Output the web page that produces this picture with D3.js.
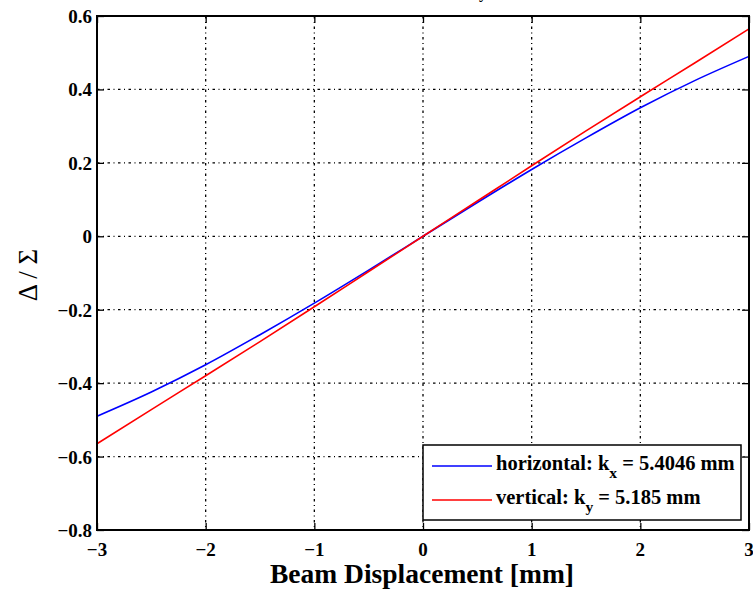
<!DOCTYPE html>
<html><head><meta charset="utf-8">
<script src="https://cdn.jsdelivr.net/npm/d3@7"></script>
<style>body{margin:0;background:#fff}svg{display:block}</style>
</head><body>
<script>
// Data
const xValues = [-3, -2.5, -2, -1.5, -1, -0.5, 0, 0.5, 1, 1.5, 2, 2.5, 3];
const horizontalValues = [-0.490, -0.424, -0.350, -0.268, -0.182, -0.092, 0, 0.092, 0.182, 0.268, 0.350, 0.424, 0.490];
const verticalValues = [-0.565, -0.472, -0.380, -0.287, -0.192, -0.096, 0, 0.096, 0.192, 0.287, 0.380, 0.472, 0.565];
const xTicks = [-3, -2, -1, 0, 1, 2, 3];
const yTicks = [-0.8, -0.6, -0.4, -0.2, 0, 0.2, 0.4, 0.6];
const seriesNames = ["horizontal", "vertical"];
const seriesK = ["x", "y"];
const seriesKValues = ["5.4046", "5.185"];

const W = 753, H = 589;
const L = 97, R = 749, T = 16, B = 530;
const svg = d3.select("body").append("svg").attr("width", W).attr("height", H);
const x = d3.scaleLinear().domain([-3, 3]).range([L, R]);
const y = d3.scaleLinear().domain([-0.8, 0.6]).range([B, T]);
const serif = "'Liberation Serif','Times New Roman',serif";
const fmt = v => (v < 0 ? "\u2212" : "") + (v === 0 ? "0" : (Math.abs(v) % 1 === 0 ? Math.abs(v).toString() : Math.abs(v).toFixed(1)));

// Cut-off title remnant
svg.append("text").attr("x", 479).attr("y", -2).attr("font-family", serif).attr("font-weight", "bold")
  .attr("font-size", 16).text("y");

// Grid
const grid = svg.append("g").attr("stroke", "#000").attr("stroke-width", 1.3).attr("stroke-dasharray", "2.5,3.5,1,3.5");
grid.selectAll(".gx").data(xTicks.slice(1, -1)).enter().append("line")
  .attr("x1", d => x(d)).attr("x2", d => x(d)).attr("y1", T).attr("y2", B);
grid.selectAll(".gy").data(yTicks.slice(1, -1)).enter().append("line")
  .attr("y1", d => y(d)).attr("y2", d => y(d)).attr("x1", L).attr("x2", R);

// Axes (ticks inward)
const ax = svg.append("g");
ax.append("g").attr("transform", `translate(0,${B})`)
  .call(d3.axisTop(x).tickValues(xTicks).tickSize(7).tickFormat(""));
ax.append("g").attr("transform", `translate(0,${T})`)
  .call(d3.axisBottom(x).tickValues(xTicks).tickSize(7).tickFormat(""));
ax.append("g").attr("transform", `translate(${L},0)`)
  .call(d3.axisRight(y).tickValues(yTicks).tickSize(7).tickFormat(""));
ax.append("g").attr("transform", `translate(${R},0)`)
  .call(d3.axisLeft(y).tickValues(yTicks).tickSize(7).tickFormat(""));
ax.selectAll(".domain").remove();
ax.selectAll("line").attr("stroke", "#000").attr("stroke-width", 1.3);

// Lines
const line = d3.line().x(d => x(d[0])).y(d => y(d[1])).curve(d3.curveMonotoneX);
svg.append("path").datum(xValues.map((v, i) => [v, horizontalValues[i]]))
  .attr("d", line).attr("fill", "none").attr("stroke", "#0000ff").attr("stroke-width", 1.6);
svg.append("path").datum(xValues.map((v, i) => [v, verticalValues[i]]))
  .attr("d", line).attr("fill", "none").attr("stroke", "#ff0000").attr("stroke-width", 1.6);

// Box
svg.append("rect").attr("x", L).attr("y", T).attr("width", R - L).attr("height", B - T)
  .attr("fill", "none").attr("stroke", "#000").attr("stroke-width", 2);

// Tick labels
svg.selectAll(".xl").data(xTicks).enter().append("text")
  .attr("x", d => x(d)).attr("y", B + 26).attr("text-anchor", "middle")
  .attr("font-family", serif).attr("font-weight", "bold").attr("font-size", 19).text(d => fmt(d));
svg.selectAll(".yl").data(yTicks).enter().append("text")
  .attr("x", L - 5).attr("y", d => y(d) + 7).attr("text-anchor", "end")
  .attr("font-family", serif).attr("font-weight", "bold").attr("font-size", 19).text(d => fmt(d));

// Axis labels
svg.append("text").attr("x", (L + R) / 2 - 1).attr("y", 583).attr("text-anchor", "middle")
  .attr("font-family", serif).attr("font-weight", "bold").attr("font-size", 27.5).text("Beam Displacement [mm]");
svg.append("text").attr("transform", "translate(37,275) rotate(-90)").attr("text-anchor", "middle")
  .attr("font-family", serif).attr("font-size", 27).text("\u0394 / \u03A3");

// Legend
const lg = svg.append("g");
lg.append("rect").attr("x", 423).attr("y", 445).attr("width", 318).attr("height", 75)
  .attr("fill", "#fff").attr("stroke", "#000").attr("stroke-width", 1.5);
const colors = ["#0000ff", "#ff0000"];
seriesNames.forEach((n, i) => {
  const yy = 466 + i * 34;
  lg.append("line").attr("x1", 432).attr("x2", 492).attr("y1", yy).attr("y2", yy)
    .attr("stroke", colors[i]).attr("stroke-width", 1.6);
  const t = lg.append("text").attr("x", 496).attr("y", yy + 4).attr("font-family", serif)
    .attr("font-weight", "bold").attr("font-size", 20.5);
  t.append("tspan").text(n + ": k");
  t.append("tspan").attr("dy", 8).attr("font-size", 15.5).text(seriesK[i]);
  t.append("tspan").attr("dy", -8).text(" = " + seriesKValues[i] + " mm");
});
</script>
</body></html>
